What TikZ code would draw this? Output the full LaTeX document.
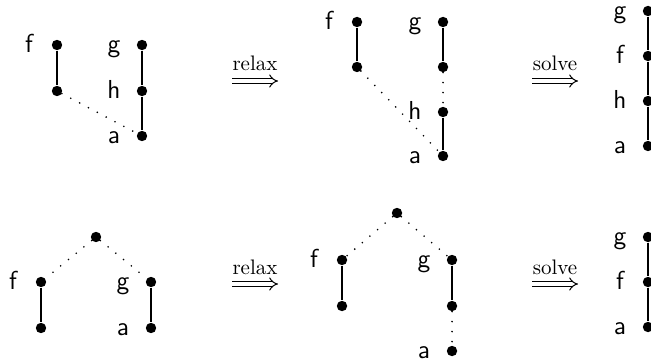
\documentclass[tikz,border=0pt]{standalone}
\usetikzlibrary{arrows.meta}
\tikzset{
  dot/.style={circle,fill=black,inner sep=0pt,minimum size=5.2pt},
  solidline/.style={line width=1pt},
  dotline/.style={line width=0.9pt,line cap=round,dash pattern=on 0pt off 5pt},
  lbl/.style={font=\sffamily\fontsize{13}{15}\selectfont,anchor=base,inner sep=0pt},
  steplbl/.style={font=\fontsize{10.5}{12}\selectfont,anchor=base,inner sep=0pt},
  implarrow/.style={line width=0.5pt,double distance=1.8pt,-{Implies[length=4pt,width=8pt]}}
}
\begin{document}
\begin{tikzpicture}[x=0.5pt,y=-0.5pt]
\useasboundingbox (0,0) rectangle (651,363);
% ---------- top left
\node[dot] (Af1) at (57,45) {};
\node[dot] (Af2) at (57,91) {};
\node[dot] (Ag) at (142,45) {};
\node[dot] (Ah) at (142,91) {};
\node[dot] (Aa) at (142,136) {};
\draw[solidline] (Af1) -- (Af2);
\draw[solidline] (Ag) -- (Ah) -- (Aa);
\draw[dotline] (Af2) -- (Aa);
\node[lbl] (LAf) at ([shift={(-28,7.5)}]Af1.center) {f};
\node[lbl] (LAg) at ([shift={(-28,7.5)}]Ag.center) {g};
\node[lbl] (LAh) at ([shift={(-28,7.5)}]Ah.center) {h};
\node[lbl] (LAa) at ([shift={(-28,7.5)}]Aa.center) {a};
% ---------- arrow 1
\node[steplbl] (R1t) at (255,71) {relax};
\coordinate (R1a) at (232,81);
\coordinate (R1b) at (278,81);
\draw[implarrow] (R1a) -- (R1b);
% ---------- top middle
\node[dot] (Bf1) at (357,22) {};
\node[dot] (Bf2) at (357,67) {};
\node[dot] (Bg1) at (443,22) {};
\node[dot] (Bg2) at (443,67) {};
\node[dot] (Bh) at (443,112) {};
\node[dot] (Ba) at (443,156) {};
\draw[solidline] (Bf1) -- (Bf2);
\draw[solidline] (Bg1) -- (Bg2);
\draw[solidline] (Bh) -- (Ba);
\draw[dotline] (Bg2) -- (Bh);
\draw[dotline] (Bf2) -- (Ba);
\node[lbl] (LBf) at ([shift={(-28,7.5)}]Bf1.center) {f};
\node[lbl] (LBg) at ([shift={(-28,7.5)}]Bg1.center) {g};
\node[lbl] (LBh) at ([shift={(-28,7.5)}]Bh.center) {h};
\node[lbl] (LBa) at ([shift={(-28,7.5)}]Ba.center) {a};
% ---------- arrow 2
\node[steplbl] (S1t) at (555,71) {solve};
\coordinate (S1a) at (532,81);
\coordinate (S1b) at (578,81);
\draw[implarrow] (S1a) -- (S1b);
% ---------- top right
\node[dot] (Cg) at (648,11) {};
\node[dot] (Cf) at (648,56) {};
\node[dot] (Ch) at (648,101) {};
\node[dot] (Ca) at (648,146) {};
\draw[solidline] (Cg) -- (Cf) -- (Ch) -- (Ca);
\node[lbl] (LCg) at ([shift={(-28,7.5)}]Cg.center) {g};
\node[lbl] (LCf) at ([shift={(-28,7.5)}]Cf.center) {f};
\node[lbl] (LCh) at ([shift={(-28,7.5)}]Ch.center) {h};
\node[lbl] (LCa) at ([shift={(-28,7.5)}]Ca.center) {a};
% ---------- bottom left
\node[dot] (Dt) at (96,237) {};
\node[dot] (Df1) at (41,282) {};
\node[dot] (Df2) at (41,328) {};
\node[dot] (Dg) at (151,282) {};
\node[dot] (Da) at (151,328) {};
\draw[dotline] (Dt) -- (Df1);
\draw[dotline] (Dt) -- (Dg);
\draw[solidline] (Df1) -- (Df2);
\draw[solidline] (Dg) -- (Da);
\node[lbl] (LDf) at ([shift={(-28,7.5)}]Df1.center) {f};
\node[lbl] (LDg) at ([shift={(-28,7.5)}]Dg.center) {g};
\node[lbl] (LDa) at ([shift={(-28,7.5)}]Da.center) {a};
% ---------- arrow 3
\node[steplbl] (R2t) at (255,274) {relax};
\coordinate (R2a) at (232,284);
\coordinate (R2b) at (278,284);
\draw[implarrow] (R2a) -- (R2b);
% ---------- bottom middle
\node[dot] (Et) at (397,213) {};
\node[dot] (Ef1) at (342,260) {};
\node[dot] (Ef2) at (342,306) {};
\node[dot] (Eg1) at (452,260) {};
\node[dot] (Eg2) at (452,306) {};
\node[dot] (Ea) at (452,351) {};
\draw[dotline] (Et) -- (Ef1);
\draw[dotline] (Et) -- (Eg1);
\draw[solidline] (Ef1) -- (Ef2);
\draw[solidline] (Eg1) -- (Eg2);
\draw[dotline] (Eg2) -- (Ea);
\node[lbl] (LEf) at ([shift={(-28,7.5)}]Ef1.center) {f};
\node[lbl] (LEg) at ([shift={(-28,7.5)}]Eg1.center) {g};
\node[lbl] (LEa) at ([shift={(-28,7.5)}]Ea.center) {a};
% ---------- arrow 4
\node[steplbl] (S2t) at (555,274) {solve};
\coordinate (S2a) at (532,284);
\coordinate (S2b) at (578,284);
\draw[implarrow] (S2a) -- (S2b);
% ---------- bottom right
\node[dot] (Fg) at (648,237) {};
\node[dot] (Ff) at (648,282) {};
\node[dot] (Fa) at (648,327) {};
\draw[solidline] (Fg) -- (Ff) -- (Fa);
\node[lbl] (LFg) at ([shift={(-28,7.5)}]Fg.center) {g};
\node[lbl] (LFf) at ([shift={(-28,7.5)}]Ff.center) {f};
\node[lbl] (LFa) at ([shift={(-28,7.5)}]Fa.center) {a};
\end{tikzpicture}
\end{document}
